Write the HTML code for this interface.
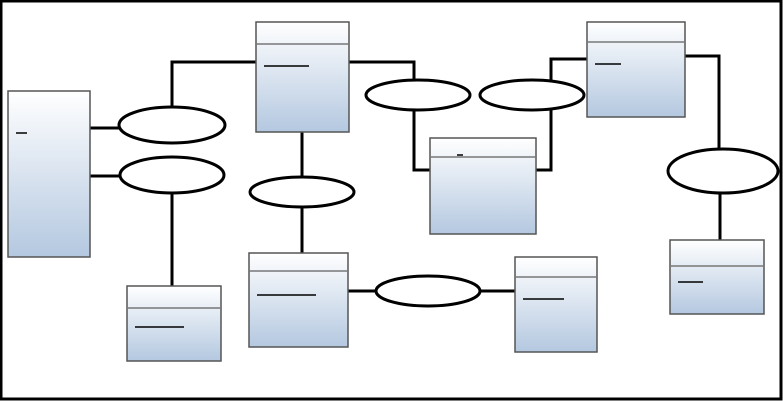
<!DOCTYPE html>
<html><head><style>body{margin:0;background:#fff}svg{display:block}</style></head><body>
<svg width="783" height="401" viewBox="0 0 783 401" xmlns="http://www.w3.org/2000/svg">
<defs><linearGradient id="g" x1="0" y1="0" x2="0" y2="1"><stop offset="0" stop-color="#ffffff"/><stop offset="1" stop-color="#b4c8e0"/></linearGradient></defs>
<rect x="1" y="1" width="780" height="398" fill="#fff" stroke="#000" stroke-width="3"/>
<g fill="none" stroke="#000" stroke-width="3">
<path d="M90 128H119M90 176H120"/>
<path d="M172 107V62H256"/>
<path d="M172 193V286"/>
<path d="M302 132V177M302 207V253"/>
<path d="M349 62H414V80M414 110V170H430"/>
<path d="M536 170H551V110M551 80V59H587"/>
<path d="M685 56H719V149M720 193V240"/>
<path d="M348 291H376M480 291H515"/>
</g>
<g fill="url(#g)" stroke="#555" stroke-width="1.5">
<rect x="8" y="91" width="82" height="166"/>
<rect x="256" y="22" width="93" height="110"/>
<rect x="430" y="138" width="106" height="96"/>
<rect x="587" y="22" width="98" height="95"/>
<rect x="670" y="240" width="94" height="74"/>
<rect x="515" y="257" width="82" height="95"/>
<rect x="249" y="253" width="99" height="94"/>
<rect x="127" y="286" width="94" height="75"/>
</g>
<g stroke="#777" stroke-width="1.5">
<path d="M256 44H349M430 157H536M587 42H685M670 266H764M515 277H597M249 271H348M127 308H221"/>
</g>
<g stroke="#000" stroke-width="1.5">
<path d="M16 133H27M264 66H309M457 155H463M595 64H621M678 282H703M523 299H564M257 295H316M135 327H184"/>
</g>
<g fill="#fff" stroke="#000" stroke-width="3">
<ellipse cx="172" cy="125" rx="53" ry="18"/>
<ellipse cx="172" cy="175" rx="52" ry="18"/>
<ellipse cx="302" cy="192" rx="52" ry="15"/>
<ellipse cx="418" cy="95" rx="52" ry="15"/>
<ellipse cx="532" cy="95" rx="52" ry="15"/>
<ellipse cx="723" cy="171" rx="55" ry="22"/>
<ellipse cx="428" cy="291" rx="52" ry="15"/>
</g>
</svg>
</body></html>
